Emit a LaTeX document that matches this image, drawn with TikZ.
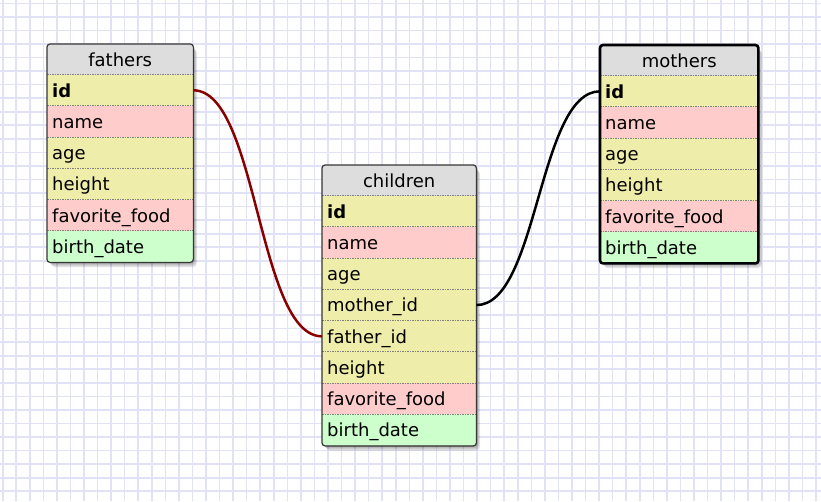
\documentclass[tikz,border=0pt]{standalone}
\usepackage{fontspec}
\setmainfont{DejaVu Sans}
\usetikzlibrary{calc}
\definecolor{gridc}{RGB}{226,226,247}
\definecolor{hdr}{RGB}{221,221,221}
\definecolor{ylw}{RGB}{238,238,170}
\definecolor{pnk}{RGB}{255,204,204}
\definecolor{grn}{RGB}{204,255,204}
\definecolor{fkred}{RGB}{136,0,0}
\definecolor{bord}{RGB}{55,55,55}
\definecolor{sepc}{RGB}{130,130,130}
\begin{document}
\begin{tikzpicture}[x=1pt,y=-1pt,
  gridline/.style={draw=gridc, line width=1.6pt},
  cell/.style={anchor=north west, inner xsep=5pt, inner ysep=0pt,
    minimum height=31.25pt, text height=16pt, text depth=2.4pt,
    align=left, font=\fontsize{18}{21}\selectfont},
  hcell/.style={cell, minimum height=30.5pt, align=center, fill=hdr},
  fw/.style={minimum width=146pt, text width=136pt},
  cw/.style={minimum width=154pt, text width=144pt},
  mw/.style={minimum width=158pt, text width=148pt},
  sepline/.style={draw=sepc, line width=1pt, dash pattern=on 1.5pt off 1pt},
  tblborder/.style={draw=bord, line width=1.2pt, rounded corners=3pt},
  selborder/.style={draw=black, line width=2.6pt, rounded corners=3pt},
  shadowbox/.style={fill=black, opacity=0.07, rounded corners=4pt},
  fkline/.style={line width=2.5pt},
]
\useasboundingbox (0,0) rectangle (821,501);
\fill[white] (0,0) rectangle (821,501);
% grid
\foreach \k in {0,...,60} \draw[gridline] ({2.7+13.555*\k},0) -- ({2.7+13.555*\k},501);
\foreach \k in {0,...,36} \draw[gridline] (0,{3.3+13.555*\k}) -- (821,{3.3+13.555*\k});

% shadows
\foreach \s in {1,...,6} {
  \fill[shadowbox] ({47+0.7*\s},{44+0.9*\s}) rectangle ({193+0.7*\s},{262+0.9*\s});
  \fill[shadowbox] ({322+0.7*\s},{165+0.9*\s}) rectangle ({476+0.7*\s},{445.5+0.9*\s});
  \fill[shadowbox] ({600+0.7*\s},{45+0.9*\s}) rectangle ({758+0.7*\s},{263+0.9*\s});
}

% ---------- fathers ----------
\begin{scope}
\clip[rounded corners=3pt] (47,44) rectangle (193,262);
\node[hcell, fw] (fathers) at (47,44) {fathers};
\foreach \n/\t/\c [count=\i from 0] in {id/{\bfseries id}/ylw, name/name/pnk, age/age/ylw, height/height/ylw, food/favorite\_food/pnk, birth/birth\_date/grn} {
  \node[cell, fw, fill=\c] (f-\n) at (47,{74.5+31.25*\i}) {\t};
}
\end{scope}
\foreach \n in {id,name,age,height,food,birth} \draw[sepline] (f-\n.north west) -- (f-\n.north east);
\draw[tblborder] (fathers.north west) rectangle (f-birth.south east);

% ---------- children ----------
\begin{scope}
\clip[rounded corners=3pt] (322,165) rectangle (476,445.5);
\node[hcell, cw] (children) at (322,165) {children};
\foreach \n/\t/\c [count=\i from 0] in {id/{\bfseries id}/ylw, name/name/pnk, age/age/ylw, mother/mother\_id/ylw, father/father\_id/ylw, height/height/ylw, food/favorite\_food/pnk, birth/birth\_date/grn} {
  \node[cell, cw, fill=\c] (c-\n) at (322,{195.5+31.25*\i}) {\t};
}
\end{scope}
\foreach \n in {id,name,age,mother,father,height,food,birth} \draw[sepline] (c-\n.north west) -- (c-\n.north east);
\draw[tblborder] (children.north west) rectangle (c-birth.south east);

% ---------- mothers ----------
\begin{scope}
\clip[rounded corners=3pt] (600,45) rectangle (758,263);
\node[hcell, mw] (mothers) at (600,45) {mothers};
\foreach \n/\t/\c [count=\i from 0] in {id/{\bfseries id}/ylw, name/name/pnk, age/age/ylw, height/height/ylw, food/favorite\_food/pnk, birth/birth\_date/grn} {
  \node[cell, mw, fill=\c] (m-\n) at (600,{75.5+31.25*\i}) {\t};
}
\end{scope}
\foreach \n in {id,name,age,height,food,birth} \draw[sepline] (m-\n.north west) -- (m-\n.north east);
\draw[selborder] (mothers.north west) rectangle (m-birth.south east);

% ---------- connectors ----------
\coordinate (mid1) at ($(f-id.east)!0.5!(c-father.west)$);
\draw[fkline, fkred] (f-id.east) .. controls (mid1 |- f-id.east) and (mid1 |- c-father.west) .. (c-father.west);
\coordinate (mid2) at ($(c-mother.east)!0.5!(m-id.west)$);
\draw[fkline, black] (c-mother.east) .. controls (mid2 |- c-mother.east) and (mid2 |- m-id.west) .. (m-id.west);
\end{tikzpicture}
\end{document}
